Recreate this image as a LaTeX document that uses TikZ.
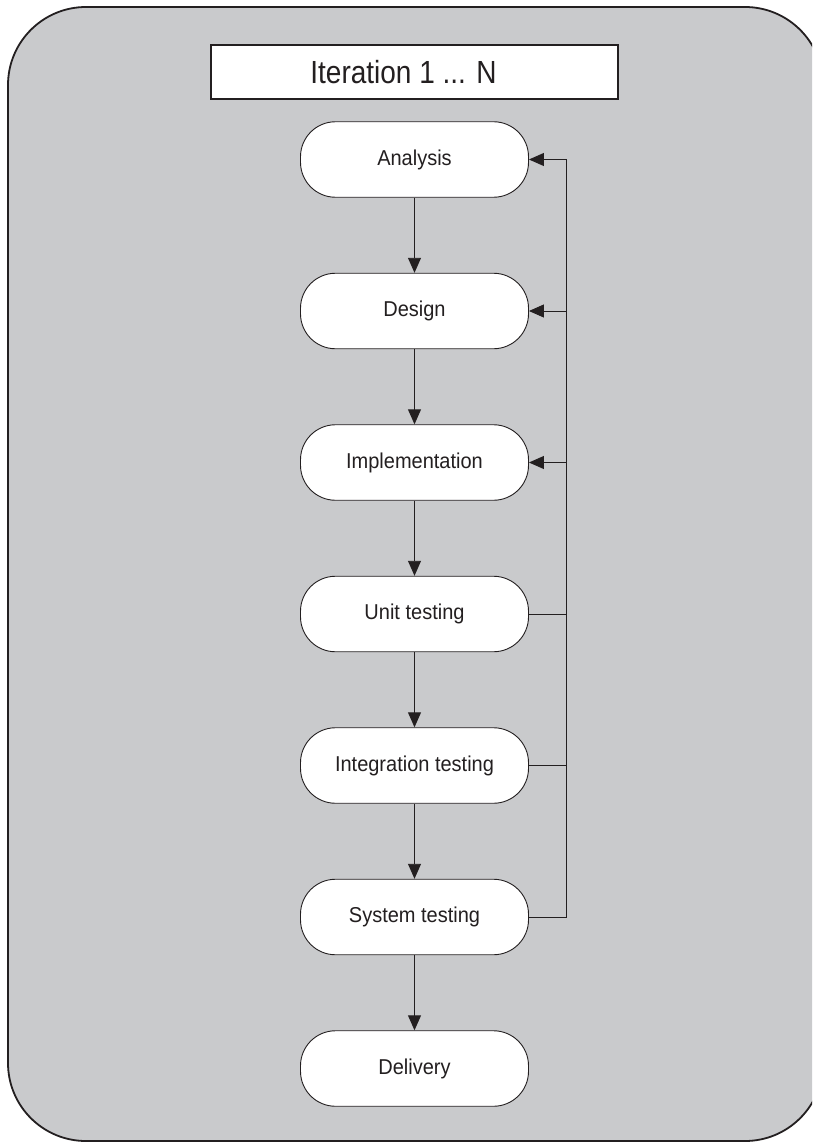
\documentclass[tikz,border=0pt]{standalone}
\usepackage{fontspec}
\setmainfont{Liberation Sans}
\usetikzlibrary{arrows.meta}
\definecolor{panel}{RGB}{201,202,204}
\definecolor{ink}{RGB}{35,31,32}
\begin{document}
\begin{tikzpicture}[x=1pt,y=-1pt,
  stage/.style={draw=ink, fill=white, line width=0.9pt,
    minimum width=228pt, minimum height=75.5pt, inner sep=0pt,
    rounded corners=35pt, text=ink,
    font=\fontsize{21.5}{26}\selectfont},
  titlebox/.style={draw=ink, fill=white, line width=1.3pt,
    minimum width=407pt, minimum height=54pt, inner sep=0pt, text=ink},
  link/.style={draw=ink, line width=0.9pt},
  arr/.style={link, -{Triangle[length=15pt,width=13pt]}}]
\useasboundingbox (0,0) rectangle (812,1142);

% grey panel with rounded corners, cut off at the right and bottom
\begin{scope}
  \clip (0,0) rectangle (812,1142);
  \draw[ink, fill=panel, line width=1.8pt, rounded corners=78pt]
    (8,7) rectangle (823,1141);
\end{scope}

% heading
\node[titlebox] (title) at (414.5,72)
  {\scalebox{0.875}[1]{\fontsize{32}{38}\selectfont Iteration 1 ... N}\hspace*{22pt}};

% process stages
\newcommand{\stagetext}[1]{\scalebox{0.93}[1]{#1}}
\node[stage] (ana) at (414.5,159.5)  {\stagetext{Analysis}};
\node[stage] (des) at (414.5,311)    {\stagetext{Design}};
\node[stage] (imp) at (414.5,462.5)  {\stagetext{Implementation}};
\node[stage] (uni) at (414.5,614)    {\stagetext{Unit testing}};
\node[stage] (int) at (414.5,765.5)  {\stagetext{Integration testing}};
\node[stage] (sys) at (414.5,917)    {\stagetext{System testing}};
\node[stage] (del) at (414.5,1068.5) {\stagetext{Delivery}};

% forward flow
\draw[arr] (ana) -- (des);
\draw[arr] (des) -- (imp);
\draw[arr] (imp) -- (uni);
\draw[arr] (uni) -- (int);
\draw[arr] (int) -- (sys);
\draw[arr] (sys) -- (del);

% feedback bus on the right
\coordinate (fbtop) at (566,159.5);
\coordinate (fbbot) at (566,917);
\draw[link] (sys.east) -- (fbbot) -- (fbtop);
\draw[link] (uni.east) -- (uni.east -| fbtop);
\draw[link] (int.east) -- (int.east -| fbtop);
\draw[arr] (fbtop) -- (ana.east);
\draw[arr] (des.east -| fbtop) -- (des.east);
\draw[arr] (imp.east -| fbtop) -- (imp.east);
\end{tikzpicture}
\end{document}
